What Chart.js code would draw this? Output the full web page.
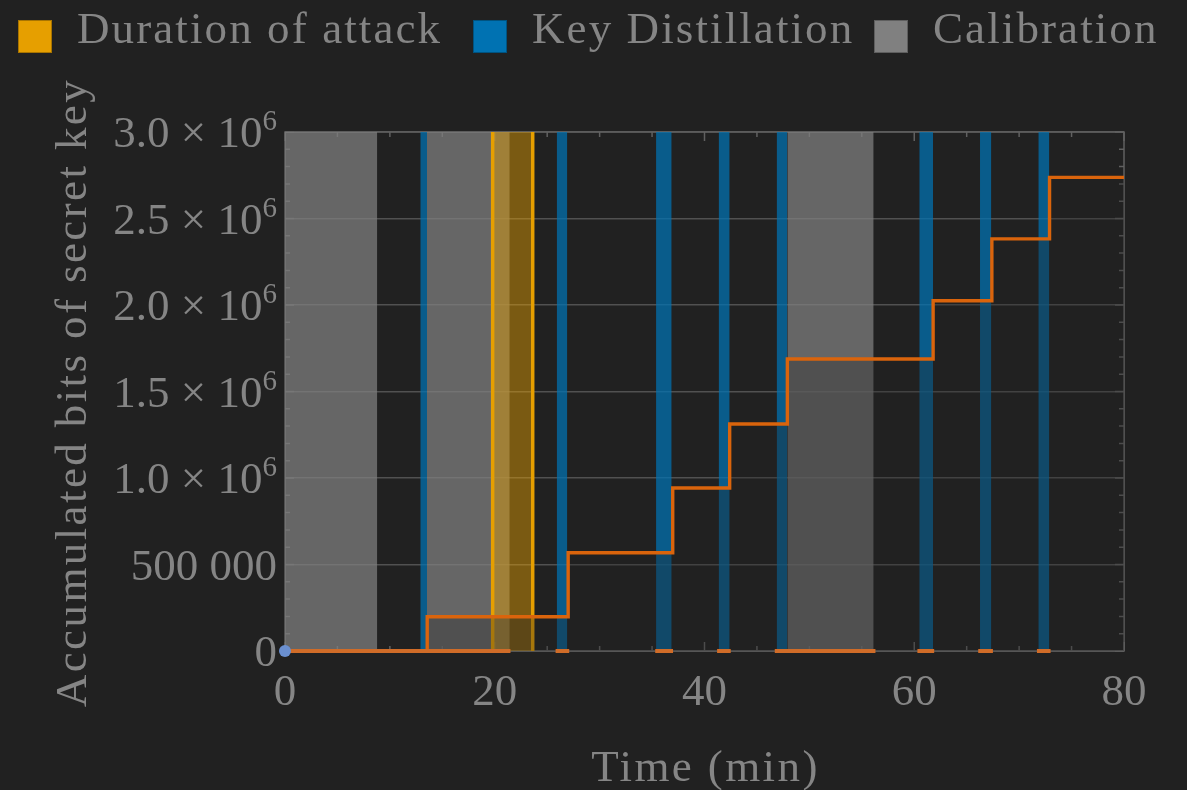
<!DOCTYPE html>
<html>
<head>
<meta charset="utf-8">
<script src="https://cdn.jsdelivr.net/npm/chart.js@4.4.1/dist/chart.umd.min.js"></script>
<style>
  html, body { margin: 0; padding: 0; background: #212121; }
  #wrap { position: relative; width: 1187px; height: 790px; }
  #legend { position: absolute; top: 0; left: 0; width: 1187px; height: 70px;
    font-family: "Liberation Serif", serif; font-size: 45px; color: #858585; letter-spacing: 2.1px; }
  #legend .item { position: absolute; top: 0; display: flex; align-items: flex-start; white-space: nowrap; }
  #legend .item:nth-child(1) { left: 18px; }
  #legend .item:nth-child(2) { left: 473px; }
  #legend .item:nth-child(3) { left: 874px; }
  #legend .box { width: 32px; height: 31px; margin: 20px 25px 0 0; border: 1px solid; }
  #legend .txt { line-height: 52px; margin-top: 2px; }
</style>
</head>
<body>
<div id="wrap">
  <div id="legend"></div>
  <canvas id="chart" width="1187" height="790"></canvas>
</div>
<script>
// spans in minutes
const calibration = [[0, 8.8], [13.54, 21.43], [47.9, 56.13]];
const distillation = [[12.9, 13.54], [25.91, 26.92], [35.38, 36.87], [41.35, 42.4], [46.88, 47.9], [60.48, 61.79], [66.27, 67.35], [71.83, 72.88]];
const attack = [19.8, 23.62];

// accumulated key: new total reached at each jump time
const jumpTimes = [0, 13.56, 27.0, 36.97, 42.4, 47.9, 61.8, 67.4, 72.9, 80];
const keyBits = [0, 198000, 568000, 942000, 1312000, 1688000, 2025000, 2382000, 2738000, 2738000];

// stretches marked on the time axis (no key produced)
const idleSpans = [[0, 21.5], [25.8, 27.1], [35.3, 37.0], [41.2, 42.5], [46.7, 56.3], [60.3, 61.9], [66.1, 67.5], [71.7, 73.0]];

const xTicks = [0, 20, 40, 60, 80];
const yTickLabels = ['0', '500 000', '1.0 × 10^6', '1.5 × 10^6', '2.0 × 10^6', '2.5 × 10^6', '3.0 × 10^6'];
const xTitle = 'Time (min)';
const yTitle = 'Accumulated bits of secret key';

const legendNames = ['Duration of attack', 'Key Distillation', 'Calibration'];
const legendColors = ['#e69f00', '#0072b2', '#808080'];
const legendEdges = ['#a87400', '#005380', '#5e5e5e'];

const FONT = '"Liberation Serif", serif';
const TXT = '#858585';
const Y_MAX = 3000000;

// html legend
const legendEl = document.getElementById('legend');
legendNames.forEach((name, i) => {
  const item = document.createElement('div');
  item.className = 'item';
  const box = document.createElement('span');
  box.className = 'box';
  box.style.background = legendColors[i];
  box.style.borderColor = legendEdges[i];
  const txt = document.createElement('span');
  txt.className = 'txt';
  txt.textContent = name;
  item.appendChild(box);
  item.appendChild(txt);
  legendEl.appendChild(item);
});

function band(span, color, order) {
  return {
    data: [{x: span[0], y: 0}, {x: span[0], y: Y_MAX}, {x: span[1], y: Y_MAX}, {x: span[1], y: 0}],
    fill: 'origin',
    backgroundColor: color,
    borderColor: 'rgba(0,0,0,0)',
    borderWidth: 0,
    pointRadius: 0,
    order: order
  };
}

const datasets = [];
calibration.forEach(s => datasets.push(band(s, 'rgba(128,128,128,0.73)', 6)));
distillation.forEach(s => datasets.push(band(s, 'rgba(0,114,178,0.73)', 6)));
datasets.push(band(attack, 'rgba(230,159,0,0.45)', 5));

// attack edges
datasets.push({
  data: [{x: attack[0], y: 0}, {x: attack[0], y: Y_MAX}, {x: (attack[0] + attack[1]) / 2, y: null},
         {x: attack[1], y: 0}, {x: attack[1], y: Y_MAX}],
  borderColor: '#e69f00',
  borderWidth: 3.5,
  pointRadius: 0,
  fill: false,
  order: 4
});

// key line
datasets.push({
  data: jumpTimes.map((t, i) => ({x: t, y: keyBits[i]})),
  stepped: 'before',
  borderColor: '#da640c',
  borderWidth: 3.4,
  pointRadius: 0,
  fill: 'origin',
  backgroundColor: 'rgba(33,33,33,0.32)',
  order: 3
});

// idle marks on the axis
const idlePts = [];
idleSpans.forEach(s => idlePts.push({x: s[0], y: 0}, {x: s[1], y: 0}, {x: s[1], y: null}));
datasets.push({
  data: idlePts,
  borderColor: '#d06c28',
  borderWidth: 4,
  pointRadius: 0,
  fill: false,
  clip: 6,
  order: 2
});

// start point
datasets.push({
  data: [{x: jumpTimes[0], y: keyBits[0]}],
  showLine: false,
  pointRadius: 6,
  pointBackgroundColor: '#6a8fd0',
  pointBorderWidth: 0,
  clip: 10,
  order: 1
});

const frameTicks = {
  id: 'frameTicks',
  beforeDatasetsDraw(chart) {
    const {ctx, chartArea: a, scales: {x, y}} = chart;
    ctx.save();
    ctx.strokeStyle = '#606060';
    ctx.lineWidth = 1.5;
    ctx.strokeRect(a.left, a.top, a.right - a.left, a.bottom - a.top);
    ctx.beginPath();
    for (let t = 0; t <= 80; t += 5) {
      const px = x.getPixelForValue(t);
      const len = t % 20 === 0 ? 9 : 5;
      ctx.moveTo(px, a.bottom); ctx.lineTo(px, a.bottom - len);
      ctx.moveTo(px, a.top); ctx.lineTo(px, a.top + len);
    }
    for (let v = 0; v <= Y_MAX; v += 100000) {
      const py = y.getPixelForValue(v);
      const len = v % 500000 === 0 ? 9 : 5;
      ctx.moveTo(a.left, py); ctx.lineTo(a.left + len, py);
      ctx.moveTo(a.right, py); ctx.lineTo(a.right - len, py);
    }
    ctx.stroke();
    ctx.restore();
  },
  afterDraw(chart) {
    const {ctx, chartArea: a, scales: {y}} = chart;
    ctx.save();
    ctx.fillStyle = TXT;
    ctx.textBaseline = 'alphabetic';
    // y tick labels with superscript exponent
    y.ticks.forEach((tk, i) => {
      const label = yTickLabels[i];
      const py = y.getPixelForValue(tk.value);
      const parts = label.split('^');
      ctx.font = '45px ' + FONT;
      const wBase = ctx.measureText(parts[0]).width;
      let wSup = 0;
      if (parts[1]) { ctx.font = '29px ' + FONT; wSup = ctx.measureText(parts[1]).width; }
      const right = a.left - 8;
      const base = py + 15;
      ctx.font = '45px ' + FONT;
      ctx.fillText(parts[0], right - wSup - wBase, base);
      if (parts[1]) {
        ctx.font = '29px ' + FONT;
        ctx.fillText(parts[1], right - wSup, base - 17);
      }
    });
    // axis titles
    ctx.font = '45px ' + FONT;
    ctx.letterSpacing = '2.4px';
    ctx.textAlign = 'center';
    ctx.fillText(xTitle, (a.left + a.right) / 2 + 1, 781);
    ctx.translate(86, (a.top + a.bottom) / 2 + 1);
    ctx.rotate(-Math.PI / 2);
    ctx.fillText(yTitle, 0, 0);
    ctx.restore();
  }
};

new Chart(document.getElementById('chart'), {
  type: 'line',
  data: { datasets },
  options: {
    responsive: false,
    animation: false,
    layout: { padding: { left: 0, right: 63, top: 132, bottom: 0 } },
    plugins: { legend: { display: false }, tooltip: { enabled: false } },
    scales: {
      x: {
        type: 'linear', min: 0, max: 80,
        afterBuildTicks(s) { s.ticks = xTicks.map(v => ({value: v})); },
        ticks: { color: TXT, font: { family: FONT, size: 45 }, padding: 15, maxRotation: 0 },
        grid: { display: false, drawTicks: false },
        border: { display: false },
        title: { display: false, text: xTitle },
        afterFit(s) { s.height = 139; }
      },
      y: {
        min: 0, max: Y_MAX,
        ticks: { stepSize: 500000, display: false },
        grid: { color: '#515151', lineWidth: 1.5, drawTicks: false },
        border: { display: false },
        title: { display: false, text: yTitle },
        afterFit(s) { s.width = 285; }
      }
    }
  },
  plugins: [frameTicks]
});
</script>
</body>
</html>
